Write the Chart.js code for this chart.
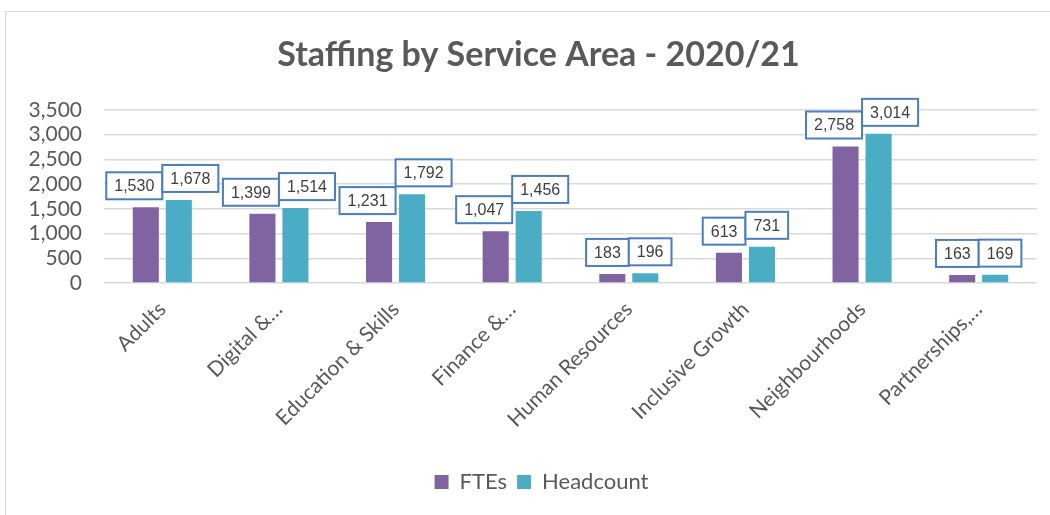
<!DOCTYPE html>
<html lang="en">
<head>
  <meta charset="UTF-8" />
  <title>Staffing by Service Area - 2020/21</title>
  <script src="https://cdn.jsdelivr.net/npm/chart.js"></script>
  <style>
    html, body {
      margin: 0;
      padding: 0;
      background: #ffffff;
      overflow: hidden;
    }
    .frame {
      position: absolute;
      left: 5px;
      top: 11px;
      width: 1200px;
      height: 700px;
      border: 1px solid #d9d9d9;
    }
    .wrap {
      position: absolute;
      left: 0;
      top: 0;
      width: 1050px;
      height: 515px;
    }
  </style>
</head>
<body>
  <div class="frame"></div>
  <div class="wrap"><canvas id="staffChart" width="1050" height="515"></canvas></div>

  <script>
    const areas = ["Adults", "Digital &…", "Education & Skills", "Finance &…",
                   "Human Resources", "Inclusive Growth", "Neighbourhoods", "Partnerships,…"];
    const ftes = [1530, 1399, 1231, 1047, 183, 613, 2758, 163];
    const headcount = [1678, 1514, 1792, 1456, 196, 731, 3014, 169];

    const textGrey = "#595959";
    const fontFace = "Lato, 'Open Sans', sans-serif";

    // boxed value labels above each bar, pushed apart when they collide
    const boxLabels = {
      id: "boxLabels",
      afterLayout(chart) {
        // the outer chart frame runs past the window, so title and legend sit right of centre
        chart.legend.left += 23;
        chart.legend.right += 23;
        chart.titleBlock.left += 20;
        chart.titleBlock.right += 20;
      },
      afterDatasetsDraw(chart) {
        const ctx = chart.ctx;
        ctx.save();
        ctx.font = "16px 'Liberation Sans', Arial, sans-serif";
        ctx.textAlign = "center";
        ctx.textBaseline = "middle";
        const h = 27;
        const metaA = chart.getDatasetMeta(0);
        const metaB = chart.getDatasetMeta(1);
        areas.forEach((_, i) => {
          const a = metaA.data[i], b = metaB.data[i];
          const ta = ftes[i].toLocaleString("en-GB");
          const tb = headcount[i].toLocaleString("en-GB");
          const wa = ctx.measureText(ta).width + 16;
          const wb = ctx.measureText(tb).width + 16;
          let ca = a.x, cb = b.x;
          const overlap = (wa / 2 + wb / 2) - (cb - ca);
          if (overlap > 0) {
            ca -= overlap / 2;
            cb += overlap / 2;
          }
          const boxes = [[ca, a.y, wa, ta], [cb, b.y, wb, tb]];
          boxes.forEach(([cx, top, w, t]) => {
            const y = top - 8 - h;
            ctx.fillStyle = "#ffffff";
            ctx.fillRect(cx - w / 2, y, w, h);
            ctx.lineWidth = 2;
            ctx.strokeStyle = "#4A7EBB";
            ctx.strokeRect(cx - w / 2, y, w, h);
            ctx.fillStyle = "#404040";
            ctx.fillText(t, cx, y + h / 2 + 1);
          });
        });
        ctx.restore();
      }
    };

    new Chart(document.getElementById("staffChart"), {
      type: "bar",
      data: {
        labels: areas,
        datasets: [
          { label: "FTEs", data: ftes, backgroundColor: "#8064A2" },
          { label: "Headcount", data: headcount, backgroundColor: "#4BACC6" }
        ]
      },
      options: {
        responsive: false,
        animation: false,
        layout: { padding: { left: 0, right: 13, top: 10, bottom: 12 } },
        datasets: {
          bar: { categoryPercentage: 0.566, barPercentage: 0.79 }
        },
        plugins: {
          title: {
            display: true,
            text: "Staffing by Service Area - 2020/21",
            color: textGrey,
            font: { family: fontFace, size: 34, weight: "bold" },
            padding: { top: 25, bottom: 34 }
          },
          legend: {
            position: "bottom",
            labels: {
              color: textGrey,
              font: { family: fontFace, size: 22 },
              boxWidth: 14,
              boxHeight: 14,
              padding: 10
            }
          },
          tooltip: { enabled: false }
        },
        scales: {
          x: {
            afterFit: scale => { scale.height = 178; },
            grid: { display: false },
            border: { display: false },
            ticks: {
              color: textGrey,
              font: { family: fontFace, size: 21 },
              maxRotation: 45,
              minRotation: 45,
              padding: 6
            }
          },
          y: {
            min: 0,
            max: 3500,
            afterFit: scale => { scale.width = 104; },
            border: { display: false },
            grid: { color: "#d9d9d9", lineWidth: 1.5, drawTicks: false },
            ticks: {
              stepSize: 500,
              autoSkip: false,
              color: textGrey,
              font: { family: fontFace, size: 21 },
              padding: 22,
              callback: v => v.toLocaleString("en-GB")
            }
          }
        }
      },
      plugins: [boxLabels]
    });
  </script>
</body>
</html>
